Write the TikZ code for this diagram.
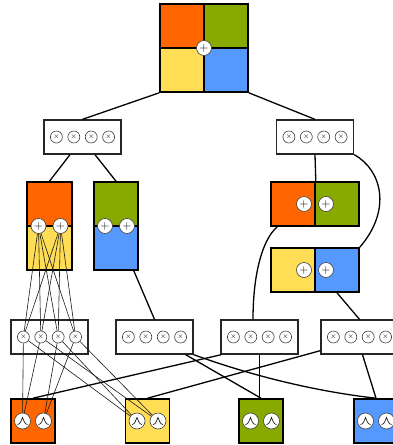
\documentclass[tikz,border=0pt]{standalone}
\usepackage{tikz}
\usetikzlibrary{positioning,calc}
\definecolor{sporange}{HTML}{FF6600}
\definecolor{spgreen}{HTML}{88AA00}
\definecolor{spyellow}{HTML}{FFDD55}
\definecolor{spblue}{HTML}{5599FF}

\begin{document}
\begin{tikzpicture}[
    x=1pt, y=-1pt,
    cell/.style={rectangle, draw=black, line width=1.6pt, minimum width=44pt, minimum height=44pt, inner sep=0pt},
    sumnode/.style={circle, draw=black!75, fill=white, line width=0.6pt, minimum size=15pt, inner sep=0pt, font=\large},
    prodbox/.style={rectangle, draw=black!85, line width=1.3pt, fill=white, minimum width=77pt, minimum height=34pt},
    prodnode/.style={circle, draw=black!75, fill=white, line width=0.6pt, minimum size=12pt, inner sep=0pt, font=\scriptsize},
    leafnode/.style={circle, draw=black!75, fill=white, line width=0.6pt, minimum size=16pt, inner sep=0pt,
        path picture={\draw[black, line width=0.6pt]
            ([shift={(-5pt,-3.5pt)}]path picture bounding box.center) .. controls +(3pt,0pt) and +(-1pt,-2pt) ..
            ([shift={(0pt,3.5pt)}]path picture bounding box.center) .. controls +(1pt,-2pt) and +(-3pt,0pt) ..
            ([shift={(5pt,-3.5pt)}]path picture bounding box.center);}},
    link/.style={line width=1.3pt},
    thinlink/.style={line width=0.6pt, black!90}
]
    \clip (0,0) rectangle (393,445);

    % root sum
    \node[cell, fill=sporange] (rootA) at (182,26) {};
    \node[cell, fill=spgreen] (rootB) at (226,26) {};
    \node[cell, fill=spyellow] (rootC) at (182,70) {};
    \node[cell, fill=spblue] (rootD) at (226,70) {};
    \node[sumnode] (root) at (204,48) {$+$};

    % product boxes
    \foreach \b/\cx/\cy in {pl/82.5/137, pr/315/137, pa/49.5/337, pb/154.5/337, pc/259.5/337, pd/359.5/337} {
        \node[prodbox] (\b) at (\cx,\cy) {};
        \foreach \i in {1,...,4}
            \node[prodnode] (\b\i) at ({\cx+(\i-2.5)*17.4},\cy) {$\times$};
    }

    % left sums
    \node[cell, fill=sporange, minimum width=45pt] (l1top) at (49.5,204) {};
    \node[cell, fill=spyellow, minimum width=45pt] (l1bot) at (49.5,248) {};
    \node[cell, fill=spgreen] (l2top) at (116,204) {};
    \node[cell, fill=spblue] (l2bot) at (116,248) {};
    \node[sumnode] (s1a) at (38.5,226) {$+$};
    \node[sumnode] (s1b) at (60.5,226) {$+$};
    \node[sumnode] (s2a) at (105,226) {$+$};
    \node[sumnode] (s2b) at (127,226) {$+$};

    % right sums
    \node[cell, fill=sporange] (r1l) at (293,204) {};
    \node[cell, fill=spgreen] (r1r) at (337,204) {};
    \node[cell, fill=spyellow] (r2l) at (293,270) {};
    \node[cell, fill=spblue] (r2r) at (337,270) {};
    \node[sumnode] (s3a) at (304,204) {$+$};
    \node[sumnode] (s3b) at (326,204) {$+$};
    \node[sumnode] (s4a) at (304,270) {$+$};
    \node[sumnode] (s4b) at (326,270) {$+$};

    % leaves
    \foreach \l/\c/\cx in {leaf1/sporange/33, leaf2/spyellow/147.5, leaf3/spgreen/261, leaf4/spblue/376} {
        \node[cell, fill=\c] (\l) at (\cx,421) {};
        \node[leafnode] (\l a) at (\cx-10.5,421) {};
        \node[leafnode] (\l b) at (\cx+10.5,421) {};
    }

    % thick links
    \draw[link] (rootC.south west) -- (pl.north);
    \draw[link] (rootD.south east) -- (pr.north);
    \draw[link] ([xshift=-12.5pt]pl.south) -- (l1top.north);
    \draw[link] ([xshift=12.5pt]pl.south) -- (l2top.north);
    \draw[link] (pr.south) -- (r1l.north east);
    \draw[link] (pr.south east) .. controls (382,170) and (392,210) .. (r2r.north east);
    \draw[link] ([xshift=7pt]r1l.south west) .. controls (262,240) and (253,275) .. ([xshift=-6.5pt]pc.north);
    \draw[link] (r2r.south) -- (pd.north);
    \draw[link] ([xshift=-5pt]l2bot.south east) -- (pb.north);

    \draw[link] ([xshift=-8pt]pb.south east) -- (leaf3.north);
    \draw[link] (pb.south east) .. controls (255,377) and (320,392) .. (leaf4.north);
    \draw[link] (pc.south) -- (pc.south |- leaf3.north);
    \draw[link] ([xshift=1pt]pc.south west) -- (leaf1.north);
    \draw[link] ([yshift=4pt]pd.south west) -- (leaf2.north);
    \draw[link] ([xshift=3pt]pd.south) -- (leaf4.north);

    % thin links
    \foreach \s in {s1a,s1b}
        \foreach \i in {1,...,4}
            \draw[thinlink] (\s) -- (pa\i);
    \foreach \i/\l in {1/leaf1a, 2/leaf1a, 3/leaf1b, 4/leaf1b}
        \draw[thinlink] (pa\i) -- (\l);
    \foreach \i/\l in {1/leaf2a, 2/leaf2b, 3/leaf2a, 4/leaf2b}
        \draw[thinlink] (pa\i) -- (\l);
\end{tikzpicture}
\end{document}
